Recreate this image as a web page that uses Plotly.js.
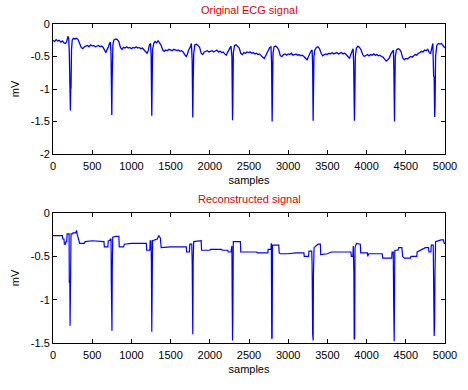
<!DOCTYPE html>
<html>
<head>
<meta charset="utf-8">
<script src="https://cdn.plot.ly/plotly-3.0.1.min.js"></script>
<style>html,body{margin:0;padding:0;background:#fff;}#chart{width:468px;height:390px;}</style>
</head>
<body>
<div id="chart"></div>
<script>
// Original ECG signal (samples, mV)
var origX = [0,20,40,60,80,100,120,140,160,175,190,200,208,214,218,222,226,230,236,245,260,280,300,320,340,360,380,400,420,440,460,480,500,520,540,560,580,600,620,640,660,675,690,705,720,732,740,746,750,754,758,764,775,800,820,840,860,880,900,920,940,960,980,1000,1020,1040,1060,1080,1100,1120,1140,1160,1180,1200,1215,1230,1245,1252,1260,1264,1270,1285,1300,1320,1340,1360,1380,1400,1420,1440,1460,1480,1500,1520,1540,1560,1580,1600,1620,1640,1660,1680,1700,1715,1730,1750,1765,1775,1783,1788,1795,1810,1830,1850,1870,1890,1910,1930,1950,1970,1990,2010,2030,2050,2070,2090,2110,2130,2150,2170,2190,2210,2225,2240,2255,2270,2282,2286,2290,2294,2300,2315,2335,2355,2375,2395,2415,2435,2455,2475,2495,2515,2535,2555,2575,2595,2615,2635,2655,2675,2695,2710,2725,2745,2765,2780,2788,2795,2800,2806,2820,2840,2860,2880,2900,2920,2940,2960,2980,3000,3020,3040,3060,3080,3100,3120,3140,3160,3180,3200,3220,3240,3255,3270,3290,3305,3312,3318,3322,3328,3340,3360,3380,3400,3420,3440,3460,3480,3500,3520,3540,3560,3580,3600,3620,3640,3660,3680,3700,3720,3740,3760,3780,3795,3810,3828,3835,3845,3850,3856,3870,3890,3910,3930,3950,3970,3990,4010,4030,4050,4070,4090,4110,4130,4150,4170,4190,4210,4230,4250,4270,4290,4310,4330,4342,4348,4352,4356,4360,4366,4380,4400,4420,4440,4460,4480,4500,4520,4540,4560,4580,4600,4620,4640,4660,4680,4700,4720,4740,4760,4780,4800,4815,4830,4845,4855,4862,4868,4873,4880,4895,4915,4935,4955,4975,5000];
var origY = [-0.25,-0.27,-0.24,-0.26,-0.25,-0.28,-0.26,-0.29,-0.30,-0.27,-0.19,-0.22,-0.45,-0.80,-0.82,-1.33,-1.00,-0.98,-0.40,-0.25,-0.22,-0.23,-0.22,-0.24,-0.30,-0.36,-0.38,-0.35,-0.34,-0.33,-0.35,-0.32,-0.34,-0.33,-0.35,-0.34,-0.33,-0.35,-0.34,-0.36,-0.41,-0.44,-0.39,-0.36,-0.30,-0.28,-0.45,-0.80,-1.40,-0.90,-0.65,-0.32,-0.25,-0.23,-0.24,-0.27,-0.36,-0.39,-0.36,-0.37,-0.35,-0.37,-0.36,-0.38,-0.36,-0.37,-0.35,-0.37,-0.36,-0.38,-0.37,-0.40,-0.43,-0.45,-0.41,-0.32,-0.30,-0.50,-1.41,-0.95,-0.40,-0.30,-0.27,-0.29,-0.26,-0.29,-0.33,-0.40,-0.42,-0.40,-0.41,-0.39,-0.40,-0.41,-0.39,-0.40,-0.41,-0.40,-0.42,-0.41,-0.43,-0.47,-0.50,-0.46,-0.40,-0.36,-0.30,-0.55,-1.44,-0.90,-0.45,-0.32,-0.31,-0.33,-0.36,-0.45,-0.47,-0.43,-0.42,-0.41,-0.43,-0.42,-0.41,-0.43,-0.42,-0.40,-0.43,-0.42,-0.44,-0.43,-0.46,-0.48,-0.44,-0.40,-0.36,-0.34,-0.50,-0.98,-1.48,-1.20,-0.45,-0.33,-0.32,-0.34,-0.37,-0.45,-0.47,-0.44,-0.45,-0.43,-0.44,-0.43,-0.45,-0.44,-0.46,-0.45,-0.47,-0.46,-0.49,-0.51,-0.53,-0.49,-0.44,-0.40,-0.36,-0.35,-0.60,-1.50,-1.10,-0.45,-0.35,-0.34,-0.36,-0.40,-0.49,-0.50,-0.47,-0.46,-0.48,-0.46,-0.47,-0.45,-0.48,-0.47,-0.46,-0.48,-0.47,-0.49,-0.48,-0.50,-0.53,-0.55,-0.51,-0.46,-0.42,-0.40,-0.65,-1.49,-1.05,-0.50,-0.40,-0.36,-0.35,-0.38,-0.45,-0.49,-0.47,-0.46,-0.47,-0.45,-0.46,-0.44,-0.46,-0.45,-0.44,-0.46,-0.45,-0.44,-0.46,-0.45,-0.47,-0.50,-0.53,-0.48,-0.42,-0.38,-0.60,-1.49,-1.10,-0.50,-0.37,-0.34,-0.36,-0.40,-0.47,-0.50,-0.48,-0.47,-0.49,-0.47,-0.48,-0.46,-0.48,-0.47,-0.49,-0.48,-0.50,-0.51,-0.54,-0.57,-0.55,-0.52,-0.46,-0.43,-0.40,-0.70,-1.00,-1.50,-1.00,-0.50,-0.40,-0.38,-0.39,-0.43,-0.52,-0.55,-0.53,-0.54,-0.52,-0.50,-0.51,-0.49,-0.47,-0.48,-0.45,-0.44,-0.42,-0.43,-0.40,-0.41,-0.39,-0.44,-0.46,-0.38,-0.30,-0.80,-0.82,-1.43,-1.25,-0.50,-0.33,-0.30,-0.31,-0.30,-0.34,-0.37];

// Reconstructed signal (samples, mV)
var recX = [0,120,125,140,145,160,165,175,180,205,208,215,218,222,226,230,250,255,290,300,310,330,340,400,410,500,600,650,655,700,705,725,730,740,744,748,752,756,762,800,840,845,900,910,1000,1190,1195,1235,1240,1250,1255,1260,1264,1270,1330,1350,1370,1380,1500,1700,1705,1740,1745,1770,1775,1783,1788,1795,1890,1895,2000,2010,2150,2160,2230,2235,2270,2275,2282,2286,2290,2294,2300,2390,2395,2600,2605,2740,2745,2780,2785,2790,2795,2800,2880,2885,2900,3000,3100,3200,3205,3260,3265,3300,3305,3312,3318,3322,3330,3380,3410,3415,3500,3550,3800,3805,3825,3830,3838,3842,3848,3852,3870,3920,3925,4010,4015,4025,4100,4200,4205,4320,4325,4340,4345,4352,4356,4360,4400,4410,4450,4460,4480,4560,4565,4640,4645,4700,4750,4790,4795,4820,4825,4850,4855,4862,4868,4872,4880,4950,4980,4990,5000];
var recY = [-0.26,-0.26,-0.30,-0.30,-0.36,-0.36,-0.33,-0.33,-0.24,-0.24,-0.80,-0.80,-1.30,-1.00,-0.98,-0.24,-0.24,-0.23,-0.23,-0.20,-0.25,-0.30,-0.35,-0.35,-0.33,-0.32,-0.33,-0.33,-0.39,-0.39,-0.32,-0.32,-0.30,-0.30,-0.80,-1.28,-1.36,-0.65,-0.28,-0.27,-0.27,-0.39,-0.39,-0.36,-0.35,-0.35,-0.43,-0.43,-0.32,-0.32,-0.55,-1.37,-0.50,-0.32,-0.30,-0.26,-0.29,-0.40,-0.39,-0.39,-0.45,-0.45,-0.36,-0.36,-0.55,-1.40,-0.55,-0.33,-0.32,-0.43,-0.43,-0.42,-0.42,-0.43,-0.43,-0.45,-0.45,-0.38,-0.38,-1.00,-1.47,-1.20,-0.33,-0.33,-0.45,-0.45,-0.46,-0.46,-0.42,-0.42,-0.35,-1.45,-1.44,-0.37,-0.37,-0.46,-0.47,-0.47,-0.46,-0.46,-0.50,-0.50,-0.44,-0.44,-0.60,-1.40,-1.47,-0.72,-0.40,-0.36,-0.36,-0.48,-0.47,-0.45,-0.45,-0.50,-0.50,-0.38,-0.70,-1.46,-1.44,-0.40,-0.35,-0.36,-0.46,-0.46,-0.50,-0.47,-0.47,-0.47,-0.52,-0.52,-0.45,-0.45,-1.00,-1.48,-1.02,-0.43,-0.43,-0.40,-0.40,-0.50,-0.52,-0.52,-0.50,-0.50,-0.45,-0.42,-0.40,-0.40,-0.45,-0.45,-0.37,-0.37,-0.77,-1.42,-1.27,-0.70,-0.33,-0.31,-0.31,-0.35,-0.35];

// Tick labels
var xTicks = [0,500,1000,1500,2000,2500,3000,3500,4000,4500,5000];
var xTickText = ['0','500','1000','1500','2000','2500','3000','3500','4000','4500','5000'];
var yTopTicks = [-2,-1.5,-1,-0.5,0];
var yTopText = ['-2','-1.5','-1','-0.5','0'];
var yBotTicks = [-1.5,-1,-0.5,0];
var yBotText = ['-1.5','-1','-0.5','0'];

var W = 468, H = 390;
var font = {family: 'Liberation Sans, Arial, sans-serif', size: 11, color: '#000'};

function xax(anchor, dom) {
  return {domain: dom, anchor: anchor, range: [0, 5000], tickvals: xTicks, ticktext: xTickText,
    ticks: 'inside', ticklen: 4, tickcolor: '#000', mirror: 'ticks', showline: true, linecolor: '#000',
    linewidth: 1, showgrid: false, zeroline: false, tickfont: font, ticklabelstandoff: 2,
    title: {text: 'samples', font: font, standoff: 5}};
}
function yax(anchor, dom, rng, tv, tt) {
  return {domain: dom, anchor: anchor, range: rng, tickvals: tv, ticktext: tt,
    ticks: 'inside', ticklen: 4, tickcolor: '#000', mirror: 'ticks', showline: true, linecolor: '#000',
    linewidth: 1, showgrid: false, zeroline: false, tickfont: font,
    title: {text: 'mV', font: font, standoff: 8}};
}

var xd = [53 / W, 445 / W];
var data = [
  {x: origX, y: origY, type: 'scatter', mode: 'lines', line: {color: '#0000ff', width: 1.3}, xaxis: 'x', yaxis: 'y', hoverinfo: 'skip'},
  {x: recX, y: recY, type: 'scatter', mode: 'lines', line: {color: '#0000ff', width: 1.2}, xaxis: 'x2', yaxis: 'y2', hoverinfo: 'skip'}
];
var layout = {
  width: W, height: H, margin: {l: 0, r: 0, t: 0, b: 0},
  paper_bgcolor: '#fff', plot_bgcolor: '#fff', showlegend: false,
  xaxis: xax('y', xd),
  yaxis: yax('x', [1 - 154 / H, 1 - 24 / H], [-2, 0], yTopTicks, yTopText),
  xaxis2: xax('y2', xd),
  yaxis2: yax('x2', [1 - 343 / H, 1 - 213 / H], [-1.5, 0], yBotTicks, yBotText),
  annotations: [
    {text: 'Original ECG signal', xref: 'paper', yref: 'paper', x: 249 / W, y: 1 - 10 / H, xanchor: 'center', yanchor: 'middle', showarrow: false, font: {family: font.family, size: 11, color: '#e00000'}},
    {text: 'Reconstructed signal', xref: 'paper', yref: 'paper', x: 249 / W, y: 1 - 199 / H, xanchor: 'center', yanchor: 'middle', showarrow: false, font: {family: font.family, size: 11, color: '#e00000'}}
  ]
};
Plotly.newPlot('chart', data, layout, {staticPlot: true, displayModeBar: false});
</script>
</body>
</html>
